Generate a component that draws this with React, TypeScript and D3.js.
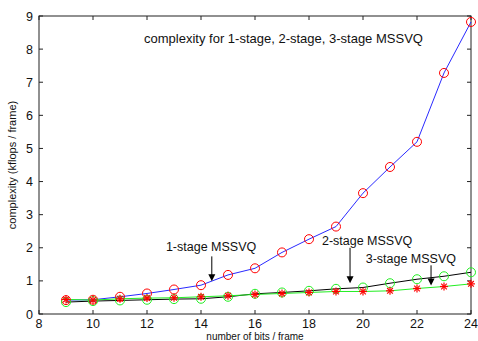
import * as d3 from 'd3'

const bits = [9, 10, 11, 12, 13, 14, 15, 16, 17, 18, 19, 20, 21, 22, 23, 24]
const stage1 = [0.42, 0.43, 0.52, 0.62, 0.74, 0.87, 1.18, 1.38, 1.86, 2.26, 2.64, 3.65, 4.44, 5.2, 7.28, 8.82]
const stage2 = [0.36, 0.39, 0.41, 0.43, 0.45, 0.46, 0.52, 0.61, 0.65, 0.7, 0.76, 0.8, 0.93, 1.05, 1.14, 1.26]
const stage3 = [0.44, 0.42, 0.46, 0.48, 0.49, 0.52, 0.55, 0.59, 0.62, 0.65, 0.68, 0.68, 0.7, 0.77, 0.83, 0.91]
const xTicks = [8, 10, 12, 14, 16, 18, 20, 22, 24]
const yTicks = [0, 1, 2, 3, 4, 5, 6, 7, 8, 9]
// label, arrow x, arrow top, arrow tip (data units)
const notes = [
  { text: '1-stage MSSVQ', x: 14.4, top: 1.74, tip: 0.99, tx: 12.7, ty: 1.89 },
  { text: '2-stage MSSVQ', x: 19.52, top: 2.0, tip: 0.93, tx: 18.48, ty: 2.07 },
  { text: '3-stage MSSVQ', x: 22.52, top: 1.47, tip: 0.86, tx: 20.1, ty: 1.53 },
]

const W = 478
const H = 341
const m = { left: 39, right: 7, top: 16, bottom: 27 }

export default function App() {
  const x = d3.scaleLinear().domain([8, 24]).range([m.left, W - m.right])
  const y = d3.scaleLinear().domain([0, 9]).range([H - m.bottom, m.top])
  const pts = (vals: number[]) => bits.map((b, i) => [b, vals[i]] as [number, number])
  const line = d3.line<[number, number]>().x((d) => x(d[0])).y((d) => y(d[1]))
  const font = 'Liberation Sans, Arial, sans-serif'
  const x0 = x(8)
  const x1 = x(24)
  const y0 = y(0)
  const y1 = y(9)

  return (
    <div style={{ position: 'fixed', left: 0, top: 0 }}>
      <svg width={W} height={H} style={{ display: 'block', background: '#fff' }} fontFamily={font}>
        {/* ticks */}
        {xTicks.map((t) => (
          <g key={'x' + t} stroke="#222" strokeWidth={1}>
            <line x1={x(t)} x2={x(t)} y1={y0} y2={y0 - 4} />
            <line x1={x(t)} x2={x(t)} y1={y1} y2={y1 + 4} />
          </g>
        ))}
        {yTicks.map((t) => (
          <g key={'y' + t} stroke="#222" strokeWidth={1}>
            <line x1={x0} x2={x0 + 4} y1={y(t)} y2={y(t)} />
            <line x1={x1} x2={x1 - 4} y1={y(t)} y2={y(t)} />
          </g>
        ))}
        <rect x={x0} y={y1} width={x1 - x0} height={y0 - y1} fill="none" stroke="#222" strokeWidth={1} />
        {xTicks.map((t) => (
          <text key={'xl' + t} x={x(t)} y={y0 + 14} fontSize={12.5} textAnchor="middle" fill="#111">
            {t}
          </text>
        ))}
        {yTicks.map((t) => (
          <text key={'yl' + t} x={x0 - 6} y={y(t) + 4.5} fontSize={12.5} textAnchor="end" fill="#111">
            {t}
          </text>
        ))}
        <text x={(x0 + x1) / 2} y={H - 1} fontSize={10} textAnchor="middle" fill="#111">
          number of bits / frame
        </text>
        <text
          transform={`translate(16,${(y0 + y1) / 2}) rotate(-90)`}
          fontSize={11}
          textAnchor="middle"
          fill="#111"
        >
          complexity (kflops / frame)
        </text>

        {/* lines */}
        <path d={line(pts(stage1)) ?? ''} fill="none" stroke="#2a2aff" strokeWidth={1} />
        <path d={line(pts(stage2)) ?? ''} fill="none" stroke="#000" strokeWidth={1} />
        <path d={line(pts(stage3)) ?? ''} fill="none" stroke="#22ee22" strokeWidth={1} />

        {/* markers */}
        {pts(stage1).map((d, i) => (
          <circle key={'a' + i} cx={x(d[0])} cy={y(d[1])} r={4.5} fill="none" stroke="#ff0000" strokeWidth={1} />
        ))}
        {pts(stage2).map((d, i) => (
          <circle key={'b' + i} cx={x(d[0])} cy={y(d[1])} r={4.5} fill="none" stroke="#22ee22" strokeWidth={1} />
        ))}
        {pts(stage3).map((d, i) => {
          const cx = x(d[0])
          const cy = y(d[1])
          const r = 4
          const k = r * 0.707
          return (
            <g key={'c' + i} stroke="#ff0000" strokeWidth={1.2}>
              <line x1={cx - r} x2={cx + r} y1={cy} y2={cy} />
              <line x1={cx} x2={cx} y1={cy - r} y2={cy + r} />
              <line x1={cx - k} x2={cx + k} y1={cy - k} y2={cy + k} />
              <line x1={cx - k} x2={cx + k} y1={cy + k} y2={cy - k} />
            </g>
          )
        })}

        {/* annotations */}
        <text x={x(11.89)} y={y(8.19)} fontSize={13} fill="#111">
          complexity for 1-stage, 2-stage, 3-stage MSSVQ
        </text>
        {notes.map((n) => {
          const ax = x(n.x)
          const at = y(n.top)
          const ap = y(n.tip)
          return (
            <g key={n.text}>
              <text x={x(n.tx)} y={y(n.ty)} fontSize={12.5} fill="#111">
                {n.text}
              </text>
              <line x1={ax} x2={ax} y1={at} y2={ap - 6} stroke="#000" strokeWidth={1} />
              <path d={`M${ax - 3.5},${ap - 7}L${ax + 3.5},${ap - 7}L${ax},${ap}Z`} fill="#000" />
            </g>
          )
        })}
      </svg>
    </div>
  )
}
